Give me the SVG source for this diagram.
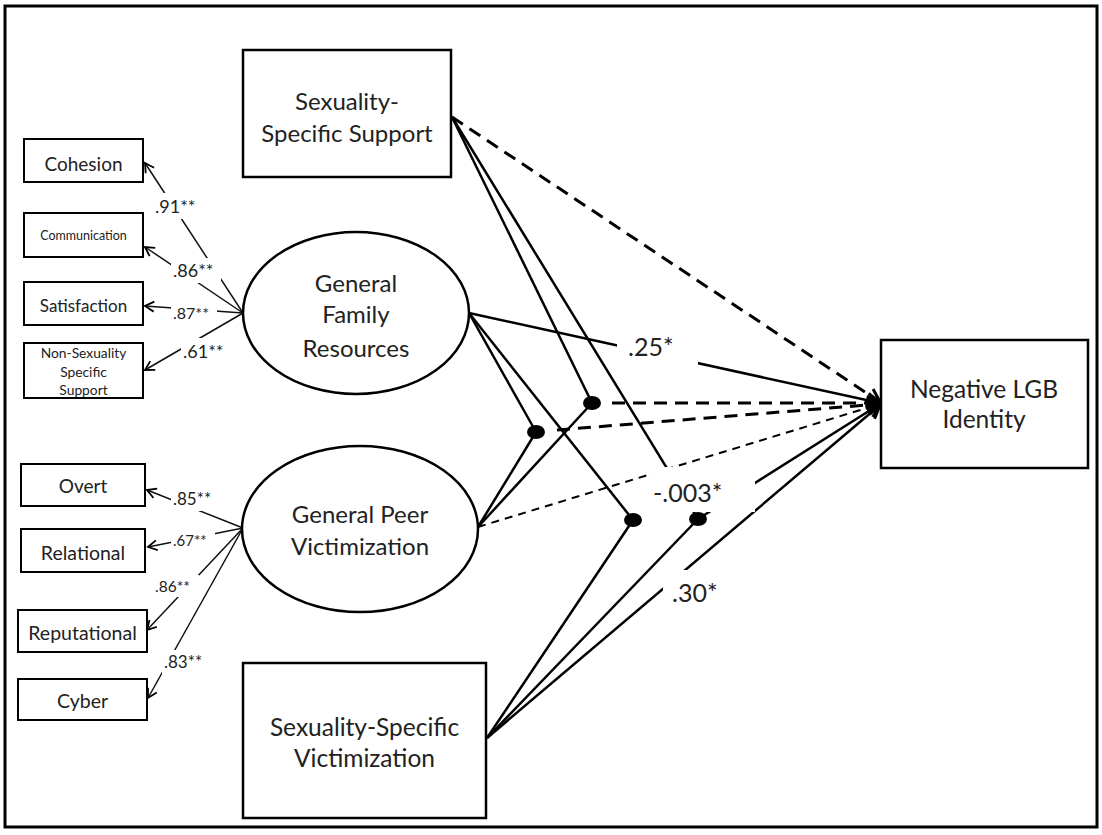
<svg xmlns="http://www.w3.org/2000/svg" width="1102" height="835" viewBox="0 0 1102 835">
<style>
  .box{fill:#fff;stroke:#000;stroke-width:2.5}
  .sbox{fill:#fff;stroke:#000;stroke-width:2}
  .t{font-family:"Lato","Liberation Sans",Arial,sans-serif;fill:#222;text-anchor:middle}
  .lbl{font-family:"Lato","Liberation Sans",Arial,sans-serif;fill:#222}
  .ld{stroke:#111;stroke-width:1.5;fill:none}
  .ln{stroke:#000;stroke-width:2.5;fill:none}
  .dk{stroke:#000;stroke-width:3;fill:none;stroke-dasharray:13 8}
  .dt{stroke:#000;stroke-width:2;fill:none;stroke-dasharray:8 6}
  .bg{fill:#fff}
</style>
<defs>
  <marker id="big" viewBox="-16 -10 18 20" markerWidth="18" markerHeight="20" refX="0" refY="0" orient="auto" markerUnits="userSpaceOnUse">
    <path d="M-13,-7 L0,0 L-13,7" fill="none" stroke="#000" stroke-width="3"/>
  </marker>
  <marker id="sm" viewBox="-12 -7 14 14" markerWidth="14" markerHeight="14" refX="0" refY="0" orient="auto" markerUnits="userSpaceOnUse">
    <path d="M-9,-5 L0,0 L-9,5" fill="none" stroke="#000" stroke-width="1.8"/>
  </marker>
</defs>
<rect x="0" y="0" width="1102" height="835" fill="#fff"/>
<rect x="5" y="6" width="1092" height="821" fill="none" stroke="#000" stroke-width="3"/>

<g id="connectors">
  <!-- loadings: family -->
  <line class="ld" x1="243" y1="313" x2="145" y2="163" marker-end="url(#sm)"/>
  <line class="ld" x1="243" y1="313" x2="145" y2="247" marker-end="url(#sm)"/>
  <line class="ld" x1="243" y1="313" x2="145" y2="306" marker-end="url(#sm)"/>
  <line class="ld" x1="243" y1="313" x2="145" y2="370" marker-end="url(#sm)"/>
  <!-- loadings: peer -->
  <line class="ld" x1="243" y1="528" x2="147" y2="490" marker-end="url(#sm)"/>
  <line class="ld" x1="243" y1="528" x2="148" y2="547" marker-end="url(#sm)"/>
  <line class="ld" x1="243" y1="528" x2="147" y2="630" marker-end="url(#sm)"/>
  <line class="ld" x1="243" y1="528" x2="148" y2="698" marker-end="url(#sm)"/>

  <!-- moderation paths to interaction dots -->
  <line class="ln" x1="452" y1="117" x2="592" y2="403"/>
  <line class="ln" x1="452" y1="117" x2="698" y2="519"/>
  <line class="ln" x1="469" y1="313" x2="536" y2="432"/>
  <line class="ln" x1="469" y1="313" x2="633" y2="520"/>
  <line class="ln" x1="478" y1="527" x2="536" y2="432"/>
  <line class="ln" x1="478" y1="527" x2="592" y2="403"/>
  <line class="ln" x1="487" y1="738" x2="633" y2="520"/>
  <line class="ln" x1="487" y1="738" x2="698" y2="519"/>

  <!-- direct paths to outcome -->
  <line class="dk" x1="452" y1="117" x2="880" y2="402" marker-end="url(#big)"/>
  <line class="ln" x1="469" y1="313" x2="880" y2="403" marker-end="url(#big)"/>
  <line class="dt" x1="478" y1="527" x2="880" y2="404" marker-end="url(#big)"/>
  <line class="ln" x1="487" y1="738" x2="880" y2="405" stroke-width="3" marker-end="url(#big)"/>

  <!-- interaction paths to outcome -->
  <line class="dk" x1="612" y1="403" x2="880" y2="403" marker-end="url(#big)"/>
  <line class="dk" x1="557" y1="430" x2="880" y2="404" marker-end="url(#big)"/>
  <line class="ln" x1="698" y1="519" x2="880" y2="404" marker-end="url(#big)"/>

  <!-- interaction dots -->
  <ellipse cx="592" cy="403" rx="9" ry="7" fill="#000"/>
  <ellipse cx="536" cy="432" rx="9" ry="7" fill="#000"/>
  <ellipse cx="633" cy="520" rx="9" ry="7" fill="#000"/>
  <ellipse cx="698" cy="519" rx="9" ry="7" fill="#000"/>
</g>

<g id="labels">
  <rect class="bg" x="617" y="330" width="81" height="38"/>
  <text class="lbl" x="628" y="356" font-size="25">.25*</text>
  <rect class="bg" x="652" y="467" width="103" height="45"/>
  <text class="lbl" x="653" y="502" font-size="25">-.003*</text>
  <rect class="bg" x="663" y="570" width="54" height="40"/>
  <text class="lbl" x="672" y="602" font-size="25">.30*</text>

  <rect class="bg" x="153" y="193" width="50" height="26"/>
  <text class="lbl" x="155" y="213" font-size="18">.91**</text>
  <rect class="bg" x="171" y="258" width="50" height="25"/>
  <text class="lbl" x="173" y="277" font-size="18">.86**</text>
  <rect class="bg" x="171" y="302" width="46" height="22"/>
  <text class="lbl" x="173" y="319" font-size="16">.87**</text>
  <rect class="bg" x="181" y="338" width="50" height="26"/>
  <text class="lbl" x="183" y="358" font-size="18">.61**</text>

  <rect class="bg" x="171" y="487" width="48" height="24"/>
  <text class="lbl" x="173" y="505" font-size="17">.85**</text>
  <rect class="bg" x="171" y="530" width="44" height="21"/>
  <text class="lbl" x="173" y="546" font-size="15">.67**</text>
  <rect class="bg" x="153" y="575" width="46" height="22"/>
  <text class="lbl" x="155" y="592" font-size="15.5">.86**</text>
  <rect class="bg" x="162" y="650" width="48" height="24"/>
  <text class="lbl" x="164" y="668" font-size="17">.83**</text>
</g>

<g id="cohesion"><rect class="sbox" x="24" y="139" width="119" height="43"/><text class="t" x="83.5" y="171" font-size="19">Cohesion</text></g>
<g id="communication"><rect class="sbox" x="24" y="213" width="119" height="44"/><text class="t" x="83.5" y="240" font-size="12.5">Communication</text></g>
<g id="satisfaction"><rect class="sbox" x="24" y="282" width="119" height="43"/><text class="t" x="83.5" y="312" font-size="17">Satisfaction</text></g>
<g id="nonsexuality"><rect class="sbox" x="24" y="343" width="119" height="55"/><text class="t" x="83.5" y="358" font-size="13.8">Non-Sexuality</text><text class="t" x="83.5" y="377" font-size="13.8">Specific</text><text class="t" x="83.5" y="395" font-size="13.8">Support</text></g>

<g id="overt"><rect class="sbox" x="21" y="464" width="124" height="42"/><text class="t" x="83" y="493" font-size="19">Overt</text></g>
<g id="relational"><rect class="sbox" x="21" y="529" width="124" height="43"/><text class="t" x="83" y="560" font-size="19.5">Relational</text></g>
<g id="reputational"><rect class="sbox" x="18" y="610" width="129" height="42"/><text class="t" x="82.5" y="640" font-size="19.5">Reputational</text></g>
<g id="cyber"><rect class="sbox" x="18" y="679" width="129" height="41"/><text class="t" x="82.5" y="708" font-size="19.5">Cyber</text></g>

<g id="sss"><rect class="box" x="243" y="50" width="208" height="127"/><text class="t" x="347" y="110" font-size="24">Sexuality-</text><text class="t" x="347" y="142" font-size="24">Specific Support</text></g>
<g id="gfr"><ellipse class="box" cx="356" cy="313" rx="113" ry="81"/><text class="t" x="356" y="292" font-size="24">General</text><text class="t" x="356" y="323" font-size="24">Family</text><text class="t" x="356" y="357" font-size="24">Resources</text></g>
<g id="gpv"><ellipse class="box" cx="360" cy="529" rx="118" ry="83"/><text class="t" x="360" y="523" font-size="24">General Peer</text><text class="t" x="360" y="555" font-size="24">Victimization</text></g>
<g id="ssv"><rect class="box" x="243" y="663" width="243" height="155"/><text class="t" x="364.5" y="736" font-size="24.5">Sexuality-Specific</text><text class="t" x="364.5" y="767" font-size="24.5">Victimization</text></g>
<g id="nlgb"><rect class="box" x="881" y="340" width="207" height="128"/><text class="t" x="984" y="398" font-size="24.5">Negative LGB</text><text class="t" x="984" y="428" font-size="24.5">Identity</text></g>
</svg>
